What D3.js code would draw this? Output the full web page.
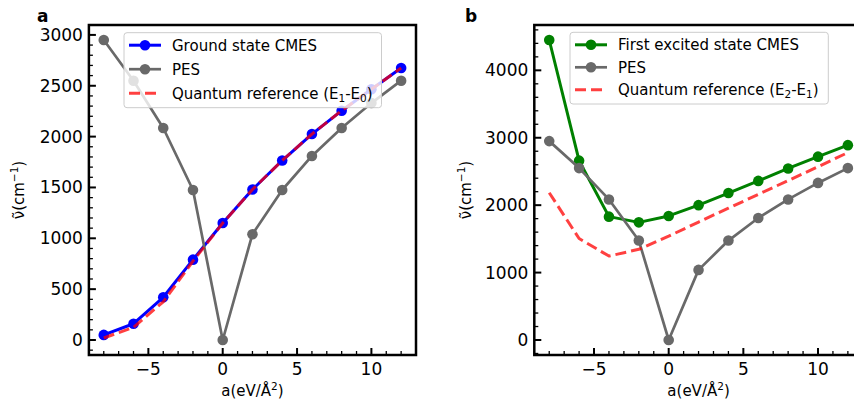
<!DOCTYPE html>
<html>
<head>
<meta charset="utf-8">
<script src="https://cdn.jsdelivr.net/npm/d3@7"></script>
<style>
  html, body { margin: 0; padding: 0; background: #fff; }
  svg { display: block; font-family: "DejaVu Sans", sans-serif; }
</style>
</head>
<body>
<svg id="chart" width="854" height="402"></svg>
<script>
// Harmonic coefficient a (eV/Å²) sampled for both panels
const aValues = [-8, -6, -4, -2, 0, 2, 4, 6, 8, 10, 12];

// Potential energy surface frequencies (cm^-1), shared by both panels
const pesValues = [2950, 2550, 2085, 1475, 0, 1040, 1475, 1810, 2085, 2330, 2550];

// Panel a: ground state
const groundCMES = [50, 160, 420, 790, 1150, 1480, 1765, 2025, 2255, 2465, 2675];
const groundRef = [20, 125, 375, 775, 1150, 1480, 1765, 2025, 2255, 2465, 2675];

// Panel b: first excited state
const excitedCMES = [4450, 2660, 1830, 1745, 1840, 2000, 2180, 2360, 2545, 2720, 2890];
const excitedRef = [2185, 1505, 1245, 1345, 1540, 1750, 1955, 2160, 2365, 2570, 2780];

const xTicks = [-5, 0, 5, 10];
const yTicksA = [0, 500, 1000, 1500, 2000, 2500, 3000];
const yTicksB = [0, 1000, 2000, 3000, 4000];

const svg = d3.select("#chart");
const fmt = v => (v < 0 ? "\u2212" + Math.abs(v) : String(v));

// Axis limits padded by 5% of the data span on each side
function padded(values) {
  const [lo, hi] = d3.extent(values);
  const m = (hi - lo) * 0.05;
  return [lo - m, hi + m];
}

function drawPanel(opt) {
  const { left, right, top, bottom } = opt.box;
  const g = svg.append("g");
  const x = d3.scaleLinear().domain(padded(aValues)).range([left, right]);
  const y = d3.scaleLinear().domain(padded(opt.series.flatMap(s => s.values))).range([bottom, top]);

  // minor ticks
  const [x0, x1] = x.domain();
  const xMinor = d3.range(Math.ceil(x0), Math.floor(x1) + 1, 1).filter(v => v % 5 !== 0);
  const [y0, y1] = y.domain();
  const yMinor = d3.range(Math.ceil(y0 / opt.yMinorStep) * opt.yMinorStep, y1, opt.yMinorStep)
    .filter(v => Math.abs(v % opt.yMajorStep) > 1e-6);

  const ticks = g.append("g").attr("stroke", "#000");
  ticks.selectAll(".xmin").data(xMinor).join("line")
    .attr("x1", d => x(d)).attr("x2", d => x(d))
    .attr("y1", bottom).attr("y2", bottom - 4).attr("stroke-width", 1.3);
  ticks.selectAll(".xmaj").data(xTicks).join("line")
    .attr("x1", d => x(d)).attr("x2", d => x(d))
    .attr("y1", bottom).attr("y2", bottom - 7).attr("stroke-width", 2);
  ticks.selectAll(".ymin").data(yMinor).join("line")
    .attr("y1", d => y(d)).attr("y2", d => y(d))
    .attr("x1", left).attr("x2", left + 4).attr("stroke-width", 1.3);
  ticks.selectAll(".ymaj").data(opt.yTicks).join("line")
    .attr("y1", d => y(d)).attr("y2", d => y(d))
    .attr("x1", left).attr("x2", left + 7).attr("stroke-width", 2);

  // tick labels
  g.selectAll(".xl").data(xTicks).join("text")
    .attr("x", d => x(d)).attr("y", bottom + 20)
    .attr("text-anchor", "middle").attr("font-size", 17).text(fmt);
  g.selectAll(".yl").data(opt.yTicks).join("text")
    .attr("x", left - 6).attr("y", d => y(d) + 6)
    .attr("text-anchor", "end").attr("font-size", 17).text(fmt);

  // series
  const line = d3.line().x((d, i) => x(aValues[i])).y(d => y(d));
  const plot = g.append("g");
  opt.series.forEach(s => {
    plot.append("path").datum(s.values)
      .attr("d", line).attr("fill", "none")
      .attr("stroke", s.color).attr("stroke-width", s.width)
      .attr("stroke-opacity", s.opacity || 1)
      .attr("stroke-dasharray", s.dash || null)
      .attr("stroke-linejoin", "round");
    if (s.marker) {
      plot.append("g").selectAll("circle").data(s.values).join("circle")
        .attr("cx", (d, i) => x(aValues[i])).attr("cy", d => y(d))
        .attr("r", 5.3).attr("fill", s.color);
    }
  });

  // frame
  g.append("rect")
    .attr("x", left).attr("y", top)
    .attr("width", right - left).attr("height", bottom - top)
    .attr("fill", "none").attr("stroke", "#000").attr("stroke-width", 2.5);

  // axis labels
  const xl = g.append("text")
    .attr("x", (left + right) / 2).attr("y", 396)
    .attr("text-anchor", "middle").attr("font-size", 15);
  xl.append("tspan").text("a(eV/Å");
  xl.append("tspan").attr("font-size", 10.5).attr("dy", -6).text("2");
  xl.append("tspan").attr("dy", 6).text(")");

  const yl = g.append("text")
    .attr("transform", `translate(${opt.ylabelX},${(top + bottom) / 2}) rotate(-90)`)
    .attr("text-anchor", "middle").attr("font-size", 15);
  yl.append("tspan").text("\u03bd\u0303(cm");
  yl.append("tspan").attr("font-size", 10.5).attr("dy", -6).text("\u22121");
  yl.append("tspan").attr("dy", 6).text(")");

  // panel letter
  g.append("text").attr("x", opt.letterX).attr("y", 22)
    .attr("font-size", 17).attr("font-weight", "bold").text(opt.letter);

  // legend
  const L = opt.legend;
  const leg = g.append("g");
  leg.append("rect")
    .attr("x", L.x).attr("y", L.y).attr("width", L.w).attr("height", L.h)
    .attr("rx", 3).attr("fill", "#fff").attr("fill-opacity", 0.8)
    .attr("stroke", "#cccccc").attr("stroke-width", 1);
  opt.series.forEach((s, i) => {
    const cy = L.y + 12.5 + i * L.gap;
    const hx = L.x + 5;
    leg.append("line")
      .attr("x1", hx).attr("x2", hx + 32).attr("y1", cy).attr("y2", cy)
      .attr("stroke", s.color).attr("stroke-width", s.width)
      .attr("stroke-opacity", s.opacity || 1)
      .attr("stroke-dasharray", s.dash || null);
    if (s.marker) {
      leg.append("circle").attr("cx", hx + 16).attr("cy", cy).attr("r", 5.3).attr("fill", s.color);
    }
    const t = leg.append("text").attr("x", L.x + 48).attr("y", cy + 5.5).attr("font-size", 15);
    s.label.forEach(part => {
      const ts = t.append("tspan").text(part.t);
      if (part.sub) ts.attr("font-size", 10.5).attr("dy", 3);
      if (part.back) ts.attr("dy", -3);
    });
  });
}

drawPanel({
  box: { left: 88.9, right: 416, top: 25, bottom: 355 },
  yTicks: yTicksA, yMajorStep: 500, yMinorStep: 100,
  ylabelX: 24, letter: "a", letterX: 37,
  legend: { x: 124, y: 32.7, w: 257.5, h: 75, gap: 24 },
  series: [
    { values: groundCMES, color: "#0000ff", width: 3, marker: true,
      label: [{ t: "Ground state CMES" }] },
    { values: pesValues, color: "#696969", width: 2.7, marker: true,
      label: [{ t: "PES" }] },
    { values: groundRef, color: "#ff0000", width: 3, opacity: 0.75, dash: "11,5",
      label: [{ t: "Quantum reference (E" }, { t: "1", sub: true }, { t: "-E", back: true },
              { t: "0", sub: true }, { t: ")", back: true }] }
  ]
});

drawPanel({
  box: { left: 534.3, right: 862.8, top: 25, bottom: 355 },
  yTicks: yTicksB, yMajorStep: 1000, yMinorStep: 200,
  ylabelX: 471, letter: "b", letterX: 465,
  legend: { x: 570, y: 32.3, w: 258.3, h: 71.7, gap: 22.5 },
  series: [
    { values: excitedCMES, color: "#008000", width: 3, marker: true,
      label: [{ t: "First excited state CMES" }] },
    { values: pesValues, color: "#696969", width: 2.7, marker: true,
      label: [{ t: "PES" }] },
    { values: excitedRef, color: "#ff0000", width: 3, opacity: 0.75, dash: "11,5",
      label: [{ t: "Quantum reference (E" }, { t: "2", sub: true }, { t: "-E", back: true },
              { t: "1", sub: true }, { t: ")", back: true }] }
  ]
});
</script>
</body>
</html>
